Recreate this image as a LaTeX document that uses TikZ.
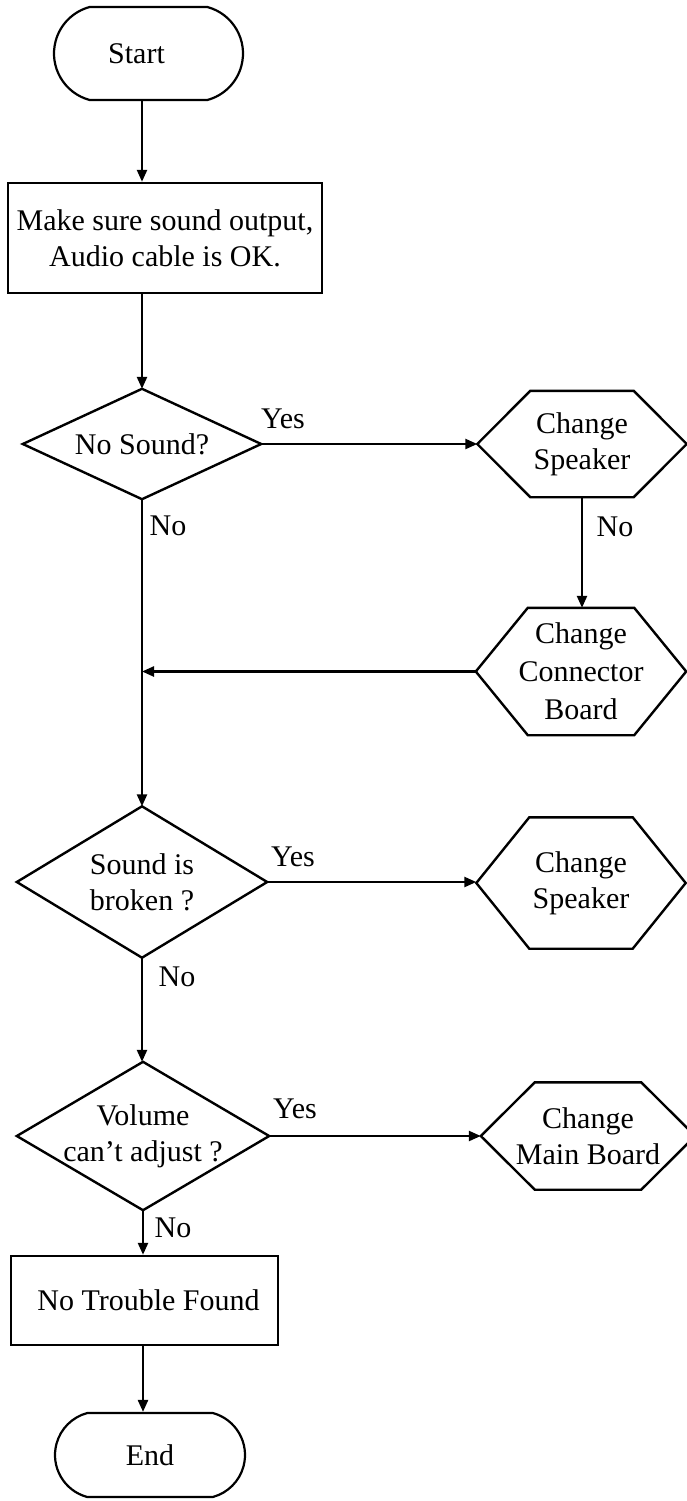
\documentclass[tikz,border=0pt]{standalone}
\usepackage{fontspec}
\setmainfont{Liberation Serif}
\usetikzlibrary{shapes.misc,arrows.meta,calc}
\newcommand\hexframe[2]{\draw[outline] (#1.west) -- ([xshift=#2]#1.north west) -- ([xshift=-#2]#1.north east) -- (#1.east) -- ([xshift=-#2]#1.south east) -- ([xshift=#2]#1.south west) -- cycle;}
\newcommand\diaframe[1]{\draw[outline] (#1.north) -- (#1.east) -- (#1.south) -- (#1.west) -- cycle;}
\begin{document}
\begin{tikzpicture}[x=1pt,y=-1pt,
  every node/.style={font=\fontsize{30}{36}\selectfont, inner sep=0pt},
  term/.style={draw, line width=2.2pt, rounded rectangle, rounded rectangle arc length=150},
  proc/.style={draw, line width=2.4pt, rectangle, align=center},
  frame/.style={rectangle, align=center},
  outline/.style={line width=2.4pt, line join=miter},
  arr/.style={line width=2.4pt, -{Triangle[length=12pt,width=10pt]}}
]
\useasboundingbox (0,0) rectangle (686,1501);

% nodes
\node[term, minimum width=189pt, minimum height=93pt] (start) at (148.5,53.5) {Start\kern24pt};
\node[proc, minimum width=314pt, minimum height=110pt] (box1) at (165,238) {Make sure sound output,\\Audio cable is OK.};

\node[frame, minimum width=238pt, minimum height=110pt] (d1) at (142,444) {No Sound?};
\diaframe{d1}
\node[frame, minimum width=209pt, minimum height=106pt] (h1) at (582,444) {Change\\Speaker};
\hexframe{h1}{53pt}
\node[frame, minimum width=210pt, minimum height=127pt, font=\fontsize{30}{38}\selectfont] (h2) at (581,671.5) {Change\\Connector\\Board};
\hexframe{h2}{52pt}

\node[frame, minimum width=250pt, minimum height=151pt] (d2) at (142,882) {Sound is\\broken ?};
\diaframe{d2}
\node[frame, minimum width=209pt, minimum height=131pt] (h3) at (581,883) {Change\\Speaker};
\hexframe{h3}{53pt}

\node[frame, minimum width=252pt, minimum height=148pt] (d3) at (143,1136) {Volume\\can’t adjust ?};
\diaframe{d3}
\node[frame, minimum width=214pt, minimum height=107pt] (h4) at (588,1136) {Change\\Main Board};
\hexframe{h4}{54pt}

\node[proc, minimum width=267pt, minimum height=89pt] (box2) at (144.5,1300.5) {\kern8pt No Trouble Found};
\node[term, minimum width=190pt, minimum height=84pt] (end) at (150,1455) {End};

% connectors
\draw[arr] (start.south -| d1.north) -- (box1.north -| d1.north);
\draw[arr] (box1.south -| d1.north) -- (d1.north);
\draw[arr] (d1.east) -- (h1.west);
\draw[arr] (h1.south) -- (h1.south |- h2.north);
\draw[arr] (h2.west) -- (h2.west -| d1.south);
\draw[arr] (d1.south) -- (d2.north);
\draw[arr] (d2.east) -- (d2.east -| h3.west);
\draw[arr] (d2.south) -- (d2.south |- d3.north);
\draw[arr] (d3.east) -- (h4.west);
\draw[arr] (d3.south) -- (d3.south |- box2.north);
\draw[arr] (box2.south -| d3.south) -- (end.north -| d3.south);

% labels
\node (y1) at (283,419) {Yes};
\node (n1) at (168,526) {No};
\node (n2) at (615,527) {No};
\node (y2) at (293,857) {Yes};
\node (n3) at (177,977) {No};
\node (y3) at (295,1109) {Yes};
\node (n4) at (173,1228) {No};
\end{tikzpicture}
\end{document}
